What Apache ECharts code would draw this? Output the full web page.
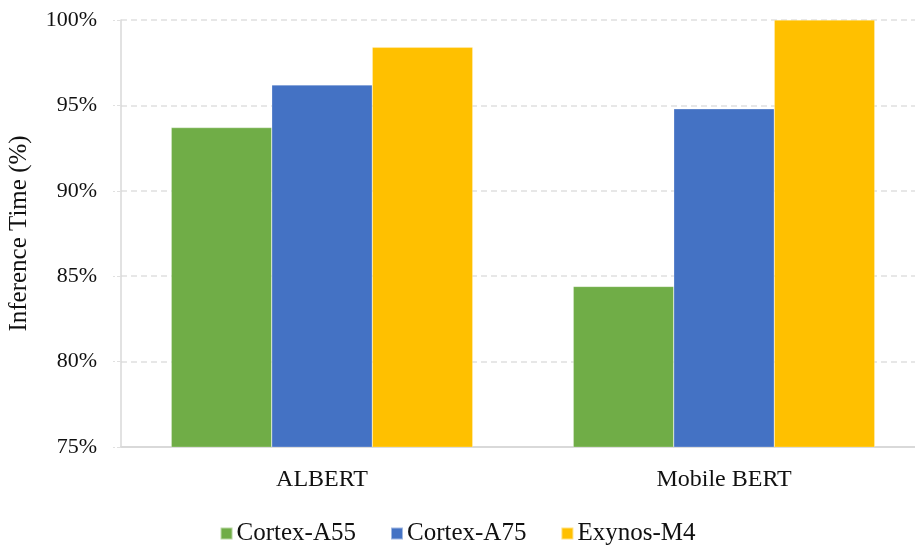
<!DOCTYPE html>
<html>
<head>
<meta charset="utf-8">
<script src="https://cdn.jsdelivr.net/npm/echarts@6/dist/echarts.min.js"></script>
<style>
  html, body { margin: 0; padding: 0; background: #fff; }
  #chart { width: 915px; height: 546px; }
</style>
</head>
<body>
<div id="chart"></div>
<script>
// Relative inference time per model and processor
const models = ['ALBERT', 'Mobile BERT'];
const cortexA55 = [93.7, 84.4];
const cortexA75 = [96.2, 94.8];
const exynosM4 = [98.4, 100.0];
const yTicks = [75, 80, 85, 90, 95, 100];

const seriesNames = ['Cortex-A55', 'Cortex-A75', 'Exynos-M4'];
const seriesValues = [cortexA55, cortexA75, exynosM4];
const colors = ['#70AD47', '#4472C4', '#FFC000'];

const font = '"Liberation Serif", "DejaVu Serif", serif';

const chart = echarts.init(document.getElementById('chart'));
chart.setOption({
  animation: false,
  textStyle: { fontFamily: font },
  grid: { left: 121, top: 20, width: 804, height: 427, containLabel: false, outerBoundsMode: 'none' },
  legend: {
    top: 516,
    left: 'center',
    itemWidth: 12,
    itemHeight: 12,
    itemGap: 34,
    icon: 'rect',
    textStyle: { fontFamily: font, fontSize: 25, color: '#111', padding: [0, 0, 0, -1] },
    data: seriesNames
  },
  xAxis: {
    type: 'category',
    data: models,
    axisLine: { lineStyle: { color: '#d9d9d9', width: 2 } },
    axisTick: { show: false },
    axisLabel: { fontFamily: font, fontSize: 24, color: '#111', margin: 21 }
  },
  yAxis: {
    type: 'value',
    min: yTicks[0],
    max: yTicks[yTicks.length - 1],
    interval: 5,
    name: 'Inference Time (%)',
    nameLocation: 'middle',
    nameGap: 89,
    nameTextStyle: { fontFamily: font, fontSize: 25, color: '#111' },
    axisLine: { show: true, lineStyle: { color: '#d9d9d9', width: 1.5 } },
    axisTick: { show: true, length: 8, lineStyle: { color: '#e0e0e0', type: 'dashed' } },
    axisLabel: {
      fontFamily: font, fontSize: 22, color: '#111', margin: 24,
      formatter: v => v + '%'
    },
    splitLine: { lineStyle: { color: '#e0e0e0', type: [6, 4], width: 1.5 } }
  },
  series: seriesNames.map((name, i) => ({
    name,
    type: 'bar',
    data: seriesValues[i],
    barGap: '0%',
    barCategoryGap: '25%',
    itemStyle: { color: colors[i], borderColor: 'rgba(255,255,255,0.5)', borderWidth: 0.5 }
  }))
});
</script>
</body>
</html>
